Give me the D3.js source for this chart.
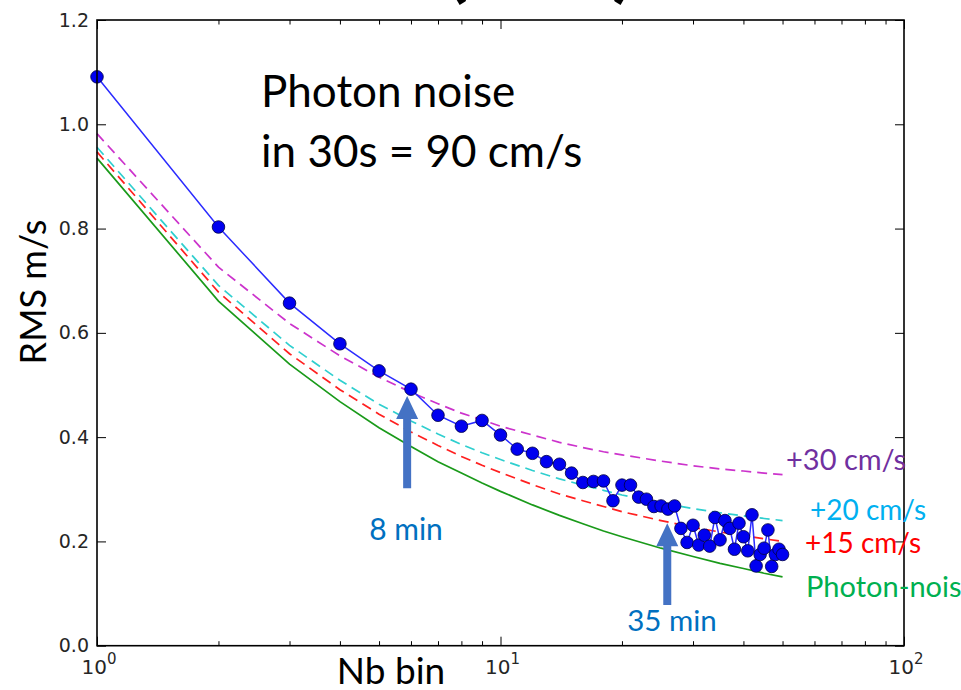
<!DOCTYPE html>
<html><head><meta charset="utf-8">
<script src="https://cdn.jsdelivr.net/npm/d3@7"></script>
<style>body{margin:0;background:#fff}svg{display:block}</style>
</head><body>
<svg id="c" width="961" height="690"></svg>
<script>
// ---- data ----
const nBins = [1,2,3,4,5,6,7,8,9,10,11,12,13,14,15,16,17,18,19,20,21,22,23,24,25,26,27,28,29,30,31,32,33,34,35,36,37,38,39,40,41,42,43,44,45,46,47,48,49,50];
const rmsMeasured = [1.091,0.803,0.657,0.579,0.527,0.492,0.442,0.421,0.432,0.404,0.377,0.369,0.353,0.348,0.331,0.313,0.315,0.316,0.278,0.308,0.308,0.285,0.281,0.267,0.268,0.262,0.268,0.225,0.198,0.231,0.193,0.212,0.191,0.246,0.203,0.240,0.225,0.185,0.235,0.209,0.182,0.251,0.153,0.175,0.187,0.222,0.152,0.175,0.185,0.175];
const curveN = [1,2,3,4,5,6,7,8,9,10,12,14,16,18,20,25,30,35,40,45,50];
const photonNoise = [0.935,0.661,0.540,0.468,0.418,0.382,0.353,0.331,0.312,0.296,0.270,0.250,0.234,0.220,0.209,0.187,0.171,0.158,0.148,0.139,0.132];
const plus30 = [0.982,0.726,0.618,0.556,0.515,0.486,0.464,0.446,0.433,0.421,0.404,0.390,0.380,0.372,0.366,0.354,0.345,0.339,0.335,0.331,0.328];
const plus20 = [0.956,0.691,0.576,0.509,0.463,0.431,0.406,0.386,0.370,0.357,0.336,0.320,0.308,0.298,0.289,0.274,0.263,0.255,0.249,0.244,0.240];
const plus15 = [0.947,0.678,0.560,0.491,0.444,0.410,0.384,0.363,0.346,0.332,0.309,0.291,0.278,0.267,0.257,0.240,0.227,0.218,0.211,0.205,0.200];
const yTicks = [0.0,0.2,0.4,0.6,0.8,1.0,1.2];
const xMajor = [1,10,100];
const xMinor = [2,3,4,5,6,7,8,9,20,30,40,50,60,70,80,90];
const arrowNotes = [{n:5.87, from:0.302, to:0.479, label:"8 min"},{n:25.9, from:0.078, to:0.235, label:"35 min"}];
const curveLabels = [
  {text:"+30 cm/s", color:"#7030A0"},
  {text:"+20 cm/s", color:"#00B0F0"},
  {text:"+15 cm/s", color:"#FF0000"},
  {text:"Photon-noise", color:"#00B050"}
];

// ---- layout ----
const W=961,H=690, L=97, R=904, T=20, B=645.7;
const svg = d3.select("#c");
const x = d3.scaleLog().domain([1,100]).range([L,R]);
const y = d3.scaleLinear().domain([0,1.2]).range([B,T]);
const TXT = "Lato, 'Open Sans', sans-serif";
const TICKF = "'DejaVu Sans', sans-serif";

// partially visible title (cut at the top)
svg.append("text").attr("x",446).attr("y",-8).attr("font-family",TXT).attr("font-weight","900")
  .attr("font-size",80).attr("fill","#000").text("(");
svg.append("text").attr("x",612).attr("y",-8).attr("font-family",TXT).attr("font-weight","900")
  .attr("font-size",80).attr("fill","#000").text(")");

// curves
const line = d3.line().x(d=>x(d[0])).y(d=>y(d[1]));
function curve(vals,color,dash){
  svg.append("path").attr("d",line(curveN.map((n,i)=>[n,vals[i]])))
    .attr("fill","none").attr("stroke",color).attr("stroke-width",1.7)
    .attr("stroke-dasharray",dash||null);
}
curve(photonNoise,"#1a9a1a");
curve(plus15,"#ff2020","10,6");
curve(plus20,"#2fcfcf","10,6");
curve(plus30,"#cc33cc","10,6");

// measured
const pts = nBins.map((n,i)=>[n,rmsMeasured[i]]);
svg.append("path").attr("d",line(pts)).attr("fill","none").attr("stroke","#2b2bff").attr("stroke-width",1.5);
svg.selectAll("circle.m").data(pts).enter().append("circle").attr("class","m")
  .attr("cx",d=>x(d[0])).attr("cy",d=>y(d[1])).attr("r",6.3)
  .attr("fill","#0000f0").attr("stroke","#000040").attr("stroke-width",0.8);

// axes
function styleAxis(g){ g.selectAll("path.domain").remove(); g.selectAll("line").attr("stroke","#000").attr("stroke-width",1); }
svg.append("g").attr("transform",`translate(0,${B})`)
  .call(d3.axisBottom(x).tickValues(xMajor).tickSize(-9).tickSizeOuter(0).tickFormat("")).call(styleAxis);
svg.append("g").attr("transform",`translate(0,${B})`)
  .call(d3.axisBottom(x).tickValues(xMinor).tickSize(-4.5).tickSizeOuter(0).tickFormat("")).call(styleAxis);
svg.append("g").attr("transform",`translate(0,${T})`)
  .call(d3.axisTop(x).tickValues(xMajor).tickSize(-9).tickSizeOuter(0).tickFormat("")).call(styleAxis);
svg.append("g").attr("transform",`translate(0,${T})`)
  .call(d3.axisTop(x).tickValues(xMinor).tickSize(-4.5).tickSizeOuter(0).tickFormat("")).call(styleAxis);
const gyL = svg.append("g").attr("transform",`translate(${L},0)`)
  .call(d3.axisLeft(y).tickValues(yTicks).tickSize(-9).tickSizeOuter(0).tickPadding(8).tickFormat(d3.format(".1f"))).call(styleAxis);
gyL.selectAll("text").attr("font-family",TICKF).attr("font-size",19).attr("fill","#262626");
svg.append("g").attr("transform",`translate(${R},0)`)
  .call(d3.axisRight(y).tickValues(yTicks).tickSize(-9).tickSizeOuter(0).tickFormat("")).call(styleAxis);

// x tick labels 10^n
xMajor.forEach(v=>{
  const t = svg.append("text").attr("x",x(v)+2).attr("y",674).attr("text-anchor","middle")
    .attr("font-family",TICKF).attr("font-size",20).attr("fill","#262626");
  t.append("tspan").text("10");
  t.append("tspan").attr("dy",-10).attr("font-size",15).text(String(Math.round(Math.log10(v))));
});

// frame
svg.append("rect").attr("x",L).attr("y",T).attr("width",R-L).attr("height",B-T)
  .attr("fill","none").attr("stroke","#000").attr("stroke-width",1.6);

// axis titles
svg.append("text").attr("x",391).attr("y",684).attr("text-anchor","middle")
  .attr("font-family",TXT).attr("font-size",37).attr("fill","#000").text("Nb bin");
svg.append("text").attr("transform","translate(46,292) rotate(-90)").attr("text-anchor","middle")
  .attr("font-family",TXT).attr("font-size",36).attr("fill","#000").text("RMS m/s");

// annotation text
svg.append("text").attr("x",261).attr("y",107).attr("font-family",TXT).attr("font-size",44).attr("fill","#000").text("Photon noise");
svg.append("text").attr("x",261).attr("y",167).attr("font-family",TXT).attr("font-size",44).attr("fill","#000").text("in 30s = 90 cm/s");

// arrows
arrowNotes.forEach((a,i)=>{
  const cx = x(a.n), y0 = y(a.from), y1 = y(a.to), hw=11, sw=4, hl=23;
  const p = [[cx-sw,y0],[cx-sw,y1+hl],[cx-hw,y1+hl],[cx,y1],[cx+hw,y1+hl],[cx+sw,y1+hl],[cx+sw,y0]];
  svg.append("path").attr("d","M"+p.map(q=>q.join(",")).join("L")+"Z").attr("fill","#4472C4");
});
svg.append("text").attr("x",406).attr("y",540).attr("text-anchor","middle").attr("font-family",TXT)
  .attr("font-size",30).attr("fill","#0070C0").text(arrowNotes[0].label);
svg.append("text").attr("x",672).attr("y",631).attr("text-anchor","middle").attr("font-family",TXT)
  .attr("font-size",29.5).attr("fill","#0070C0").text(arrowNotes[1].label);

// curve labels
const labelPos = [[786,470],[810,520],[805,553],[806,597]];
const labelSize = [29,28,28,29];
curveLabels.forEach((c,i)=>{
  svg.append("text").attr("x",labelPos[i][0]).attr("y",labelPos[i][1]).attr("font-family",TXT)
    .attr("font-size",labelSize[i]).attr("fill",c.color).text(c.text);
});
</script>
</body></html>
